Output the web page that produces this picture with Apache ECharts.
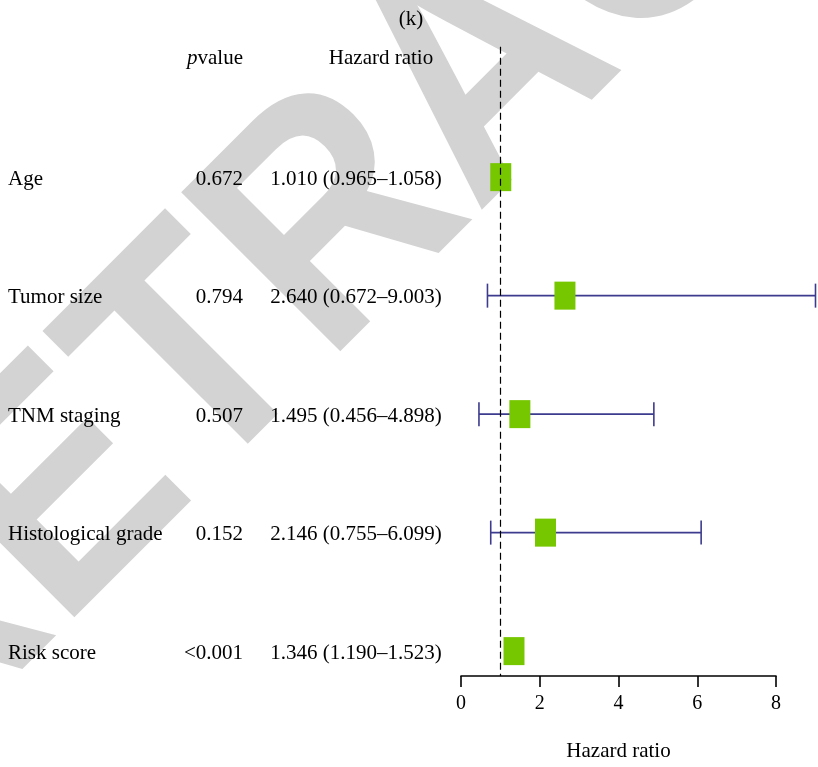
<!DOCTYPE html>
<html>
<head>
<meta charset="utf-8">
<script src="https://cdn.jsdelivr.net/npm/echarts@6/dist/echarts.min.js"></script>
<style>
html, body { margin: 0; padding: 0; background: #fff; }
#main { width: 818px; height: 767px; }
</style>
</head>
<body>
<div id="main"></div>
<script>
// forest plot data (multivariate Cox)
const factors = ['Age', 'Tumor size', 'TNM staging', 'Histological grade', 'Risk score'];
const pValues = ['0.672', '0.794', '0.507', '0.152', '<0.001'];
const hr = [1.010, 2.640, 1.495, 2.146, 1.346];
const lower = [0.965, 0.672, 0.456, 0.755, 1.190];
const upper = [1.058, 9.003, 4.898, 6.099, 1.523];
const refLine = 1;

let chart = echarts.init(document.getElementById('main'));

const serif = '"Liberation Serif", "Times New Roman", serif';
const ciColor = '#3d3b8e';
const boxColor = '#76c600';

function hrText(i) {
    return hr[i].toFixed(3) + ' (' + lower[i].toFixed(3) + '\u2013' + upper[i].toFixed(3) + ')';
}

// CI line + caps + box
function renderForest(params, api) {
    let y = api.coord([0, api.value(1)])[1];
    let xc = api.coord([api.value(0), 0])[0];
    let xl = api.coord([api.value(2), 0])[0];
    let xh = api.coord([api.value(3), 0])[0];
    let ls = { stroke: ciColor, lineWidth: 1.6 };
    return {
        type: 'group',
        children: [
            { type: 'line', shape: { x1: xl, y1: y, x2: xh, y2: y }, style: ls },
            { type: 'line', shape: { x1: xl, y1: y - 12, x2: xl, y2: y + 12 }, style: ls },
            { type: 'line', shape: { x1: xh, y1: y - 12, x2: xh, y2: y + 12 }, style: ls },
            { type: 'rect', shape: { x: xc - 10.5, y: y - 14, width: 21, height: 28 }, style: { fill: boxColor } }
        ]
    };
}

// left text columns
function renderTable(params, api) {
    let i = api.value(1);
    let y = api.coord([0, i])[1] + 2;
    let font = { fontFamily: serif, fontSize: 21, fill: '#000', verticalAlign: 'middle' };
    return {
        type: 'group',
        children: [
            { type: 'text', x: 8, y: y, style: Object.assign({ text: factors[i], align: 'left' }, font) },
            { type: 'text', x: 243, y: y, style: Object.assign({ text: pValues[i], align: 'right' }, font) },
            { type: 'text', x: 356, y: y, style: Object.assign({ text: hrText(i), align: 'center' }, font) }
        ]
    };
}

let forestData = factors.map(function (f, i) { return [hr[i], i, lower[i], upper[i]]; });
let tableData = factors.map(function (f, i) { return [0, i]; });

option = {
    animation: false,
    backgroundColor: '#fff',
    graphic: [
        {
            type: 'text', x: 488, y: 76, rotation: Math.PI / 4, scaleX: 0.9, z: 0, silent: true,
            style: { text: 'RETRACTED', font: 'bold 327px "Liberation Sans", Arial, sans-serif', fill: '#d3d3d3', align: 'center', verticalAlign: 'middle' }
        },
        {
            type: 'text', x: 411, y: 19, z: 10,
            style: { text: '(k)', fontFamily: serif, fontSize: 21, fill: '#000', align: 'center', verticalAlign: 'middle' }
        },
        {
            type: 'text', x: 243, y: 58, z: 10,
            style: {
                text: '{i|p}value', fontFamily: serif, fontSize: 21, fill: '#000', align: 'right', verticalAlign: 'middle',
                rich: { i: { fontFamily: serif, fontSize: 21, fontStyle: 'italic', fill: '#000' } }
            }
        },
        {
            type: 'text', x: 381, y: 58, z: 10,
            style: { text: 'Hazard ratio', fontFamily: serif, fontSize: 21, fill: '#000', align: 'center', verticalAlign: 'middle' }
        }
    ],
    grid: { left: 461, width: 315, top: 46.8, height: 633.5 },
    xAxis: {
        type: 'value',
        min: 0,
        max: 8,
        interval: 2,
        name: 'Hazard ratio',
        nameLocation: 'middle',
        nameGap: 65,
        nameTextStyle: { fontFamily: serif, fontSize: 21, color: '#000' },
        axisLine: { onZero: false, lineStyle: { color: '#000', width: 1.6 } },
        axisTick: { length: 11, lineStyle: { color: '#000', width: 1.6 } },
        axisLabel: { fontFamily: serif, fontSize: 20, color: '#000', margin: 18 },
        splitLine: { show: false }
    },
    yAxis: { type: 'value', inverse: true, min: -1.1, max: 4.21, show: false },
    series: [
        {
            name: 'Hazard ratio',
            type: 'custom',
            renderItem: renderForest,
            data: forestData,
            clip: false,
            z: 3,
            markLine: {
                silent: true,
                symbol: 'none',
                label: { show: false },
                lineStyle: { color: '#000', width: 1.2, type: [7, 4] },
                data: [{ xAxis: refLine }]
            }
        },
        {
            name: 'table',
            type: 'custom',
            renderItem: renderTable,
            data: tableData,
            clip: false,
            z: 4
        }
    ]
};

chart.setOption(option);
</script>
</body>
</html>
